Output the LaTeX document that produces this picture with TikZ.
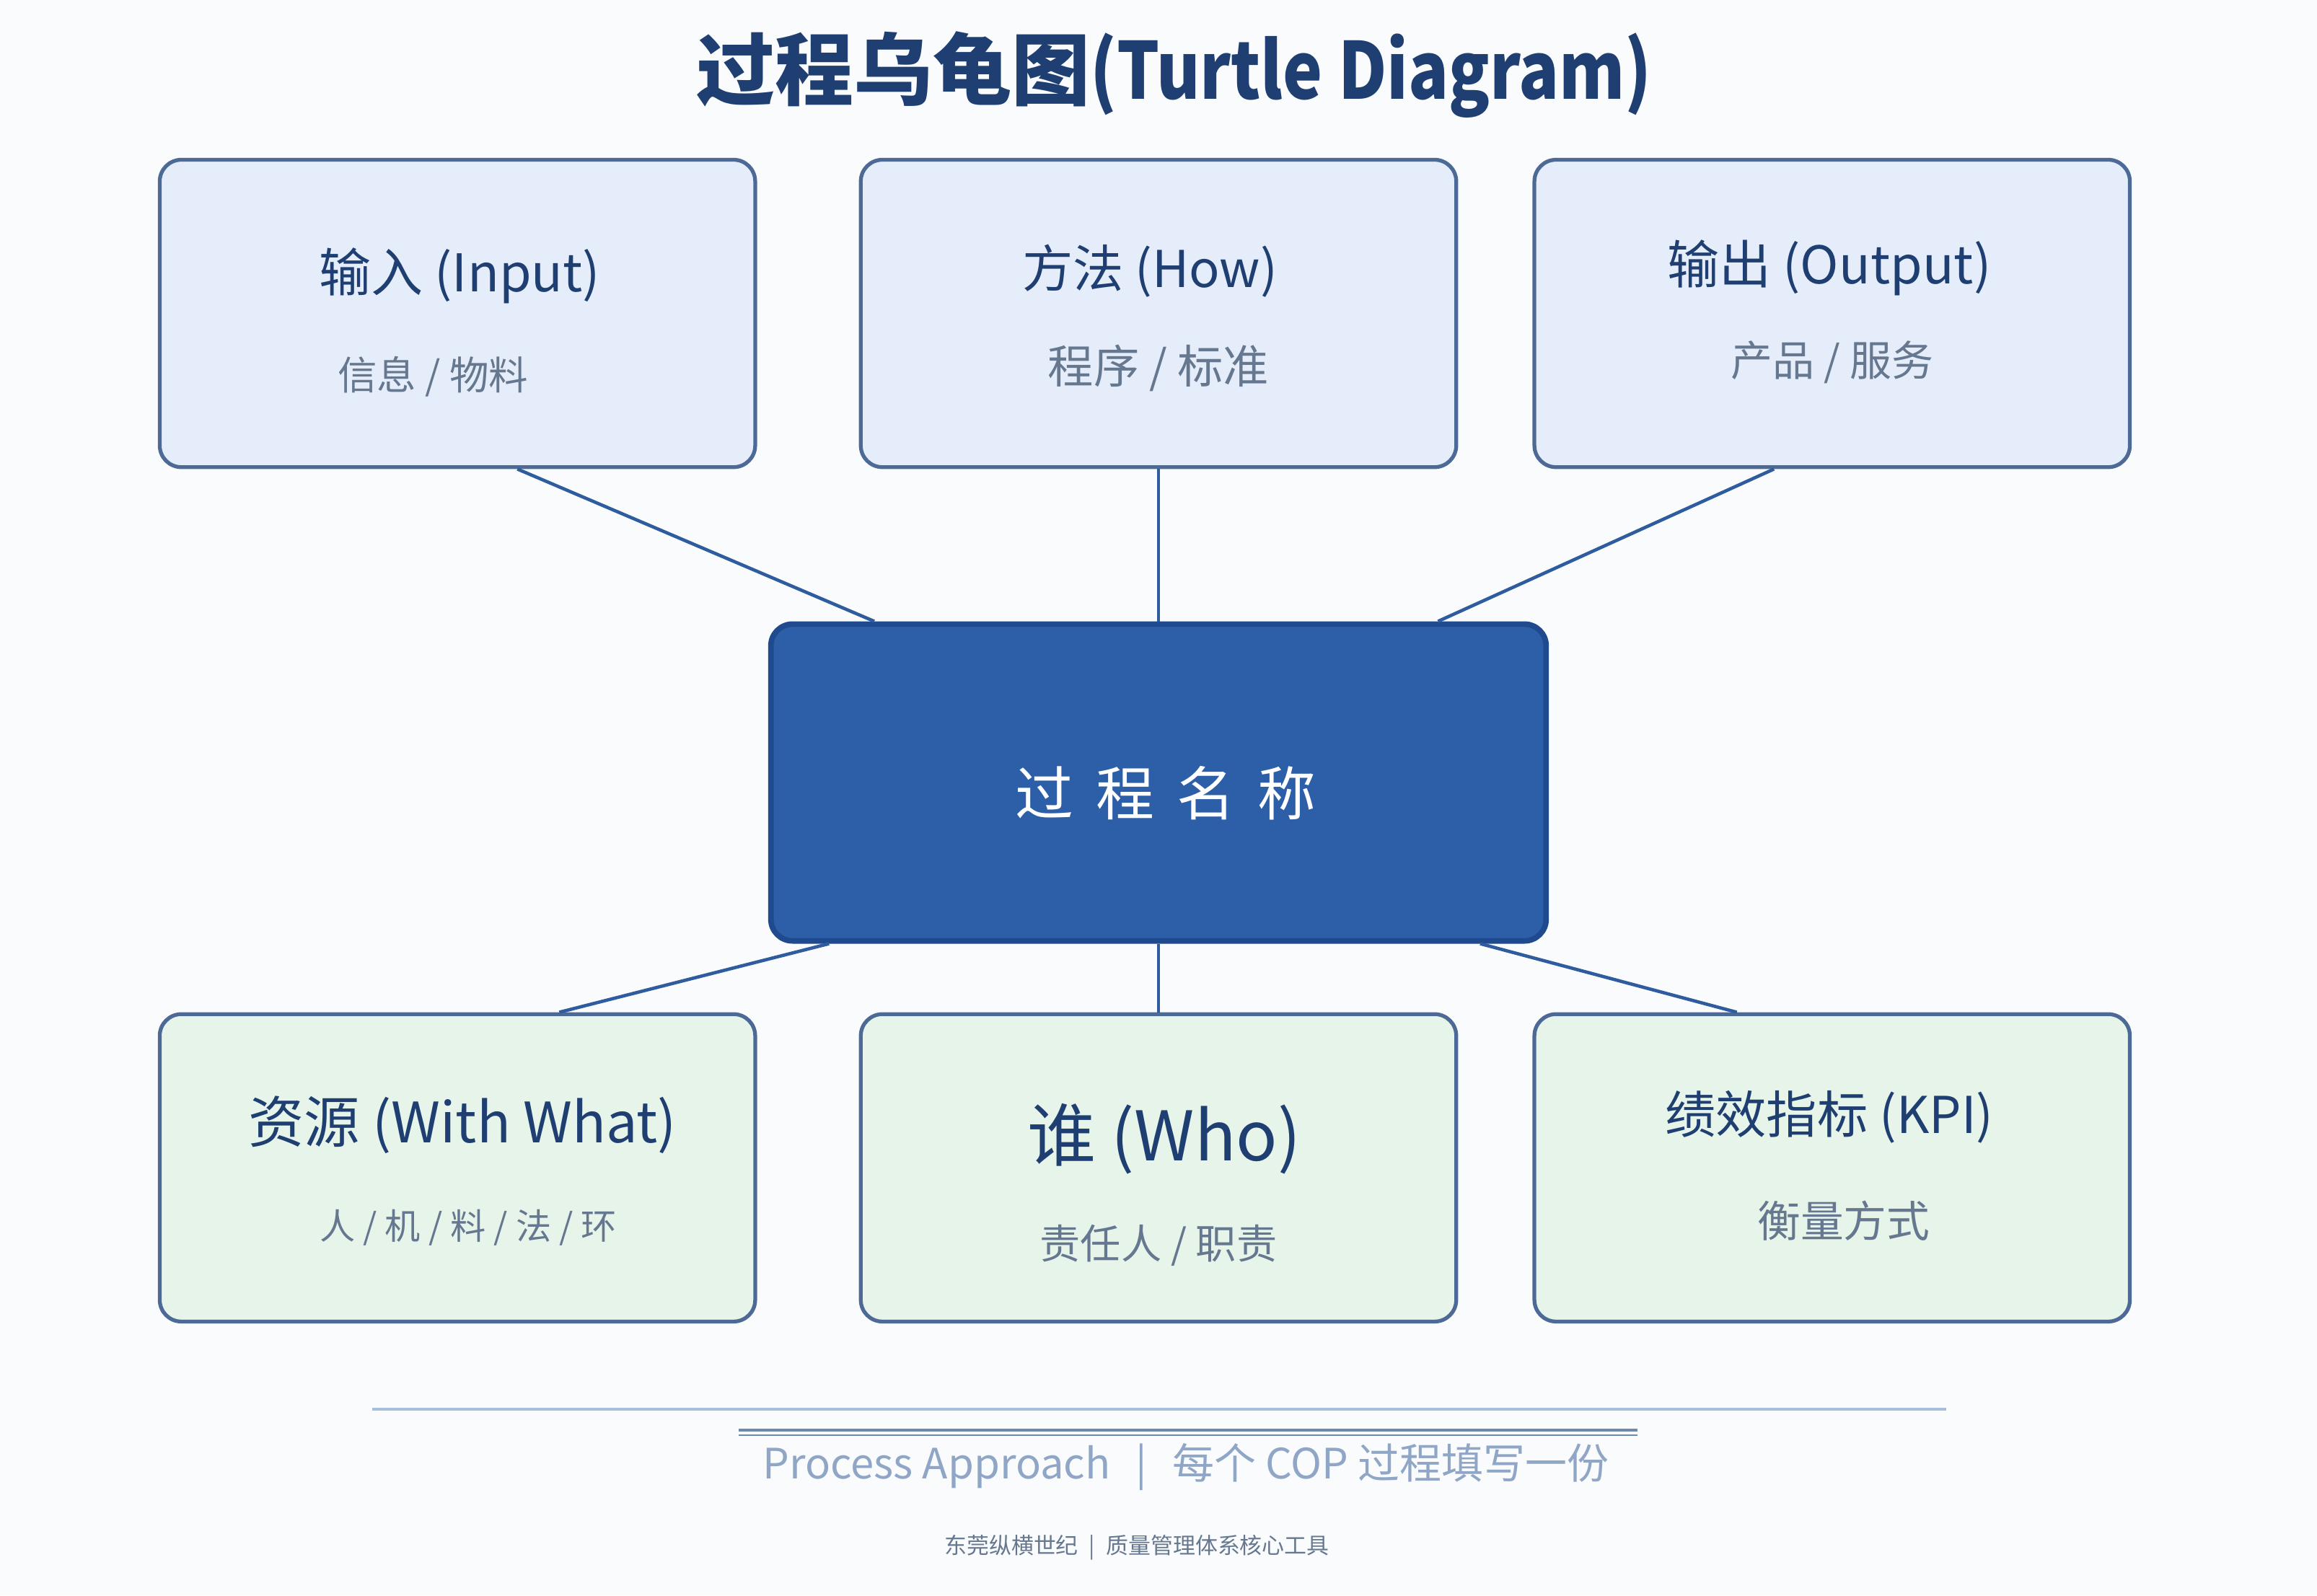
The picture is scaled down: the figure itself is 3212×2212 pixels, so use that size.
\documentclass[tikz,border=0pt]{standalone}
\usepackage{graphicx}
\usepackage{fontspec}
\setmainfont{Noto Sans CJK SC}
\usetikzlibrary{positioning,calc}

\definecolor{navy}{HTML}{1F3F72}
\definecolor{linkblue}{HTML}{2F5C9E}
\definecolor{coreblue}{HTML}{2D5EA8}
\definecolor{coreedge}{HTML}{1F4A8E}
\definecolor{boxedge}{HTML}{4D6A96}
\definecolor{topfill}{HTML}{E6EDFA}
\definecolor{botfill}{HTML}{E7F4E9}
\definecolor{subgray}{HTML}{66788F}
\definecolor{footblue}{HTML}{8FA6C6}
\definecolor{footline}{HTML}{A8BFDC}
\definecolor{ruleblue}{HTML}{6E88B0}
\definecolor{pagebg}{HTML}{FAFBFD}

\tikzset{
    turtle/.style={draw=boxedge, line width=1.5pt, rounded corners=0.3cm,
        minimum width=8.25cm, minimum height=4.26cm, inner sep=0pt},
    topbox/.style={turtle, fill=topfill},
    botbox/.style={turtle, fill=botfill},
    corebox/.style={draw=coreedge, fill=coreblue, line width=2.2pt, rounded corners=0.3cm,
        minimum width=10.74cm, minimum height=4.39cm, inner sep=0pt},
    head/.style={text=navy, font=\fontsize{20}{24}\selectfont, inner sep=0pt},
    subline/.style={text=subgray, font=\fontsize{15.5}{18}\selectfont, inner sep=0pt},
    link/.style={draw=linkblue, line width=1.3pt},
}

\begin{document}
\begin{tikzpicture}[x=0.01cm, y=-0.01cm]
    \fill[pagebg] (0,0) rectangle (3212,2212);
    \useasboundingbox (0,0) rectangle (3212,2212);

    % title
    \node[text=navy, font=\fontsize{31}{36}\selectfont\bfseries] (title) at (1628,104)
        {过程乌龟图\scalebox{0.85}[1]{(Turtle Diagram)}};

    % process in the middle
    \node[corebox] (pn) at (1606,1085) {};
    \node[text=white, font=\fontsize{23}{28}\selectfont] (pn-t) at ([xshift=0.1cm, yshift=-0.15cm]pn.center)
        {过\hspace{0.31cm}程\hspace{0.31cm}名\hspace{0.31cm}称};

    % upper row
    \node[topbox, above=2.11cm of pn] (how) {};
    \node[topbox, left=1.41cm of how] (in) {};
    \node[topbox, right=1.03cm of how] (out) {};
    % lower row
    \node[botbox, below=0.95cm of pn] (who) {};
    \node[botbox, left=1.41cm of who] (res) {};
    \node[botbox, right=1.03cm of who] (kpi) {};

    \node[head, font=\fontsize{20.5}{24}\selectfont] (in-t) at ([xshift=0.03cm, yshift=0.52cm]in.center) {输入 (Input)};
    \node[subline] (in-s) at ([xshift=-0.34cm, yshift=-0.88cm]in.center) {信息 / 物料};
    \node[head] (how-t) at ([xshift=-0.12cm, yshift=0.59cm]how.center) {方法 (How)};
    \node[subline, font=\fontsize{18}{21}\selectfont] (how-s) at ([yshift=-0.76cm]how.center) {程序 / 标准};
    \node[head, font=\fontsize{20.5}{24}\selectfont] (out-t) at ([xshift=-0.04cm, yshift=0.63cm]out.center) {输出 (Output)};
    \node[subline, font=\fontsize{16.5}{19}\selectfont] (out-s) at ([yshift=-0.68cm]out.center) {产品 / 服务};

    \node[head, font=\fontsize{22}{26}\selectfont] (res-t) at ([xshift=0.07cm, yshift=0.60cm]res.center) {资源 (With What)};
    \node[subline, font=\fontsize{14}{17}\selectfont] (res-s) at ([xshift=0.15cm, yshift=-0.83cm]res.center) {人 / 机 / 料 / 法 / 环};
    \node[head, font=\fontsize{27}{31}\selectfont] (who-t) at ([xshift=0.08cm, yshift=0.40cm]who.center) {谁 (Who)};
    \node[subline, font=\fontsize{16}{19}\selectfont] (who-s) at ([yshift=-1.08cm]who.center) {责任人 / 职责};
    \node[head] (kpi-t) at ([xshift=-0.04cm, yshift=0.70cm]kpi.center) {绩效指标 (KPI)};
    \node[subline, font=\fontsize{17}{20}\selectfont] (kpi-s) at ([xshift=0.16cm, yshift=-0.73cm]kpi.center) {衡量方式};

    % spokes
    \draw[link] ($(in.south west)!0.6!(in.south east)$) -- ($(pn.north west)!0.136!(pn.north east)$);
    \draw[link] (how) -- (pn);
    \draw[link] ($(out.south west)!0.403!(out.south east)$) -- ($(pn.north west)!0.858!(pn.north east)$);
    \draw[link] ($(pn.south west)!0.078!(pn.south east)$) -- ($(res.north west)!0.67!(res.north east)$);
    \draw[link] (pn) -- (who);
    \draw[link] ($(pn.south west)!0.912!(pn.south east)$) -- ($(kpi.north west)!0.341!(kpi.north east)$);

    % footer
    \draw[footline, line width=0.9pt] (516,1954) -- (2698,1954);
    \draw[ruleblue, line width=1.2pt] (1024,1983) -- (2270,1983);
    \draw[ruleblue, line width=0.8pt] (1024,1990) -- (2270,1990);
    \node[text=footblue, font=\fontsize{16.5}{19}\selectfont] (motto) at (1644,2034)
        {Process Approach\hspace{0.35cm}|\hspace{0.35cm}每个 COP 过程填写一份};
    \node[text=subgray, font=\fontsize{8.8}{11}\selectfont] (brand) at (1576,2146)
        {东莞纵横世纪\hspace{0.15cm}|\hspace{0.15cm}质量管理体系核心工具};
\end{tikzpicture}
\end{document}
